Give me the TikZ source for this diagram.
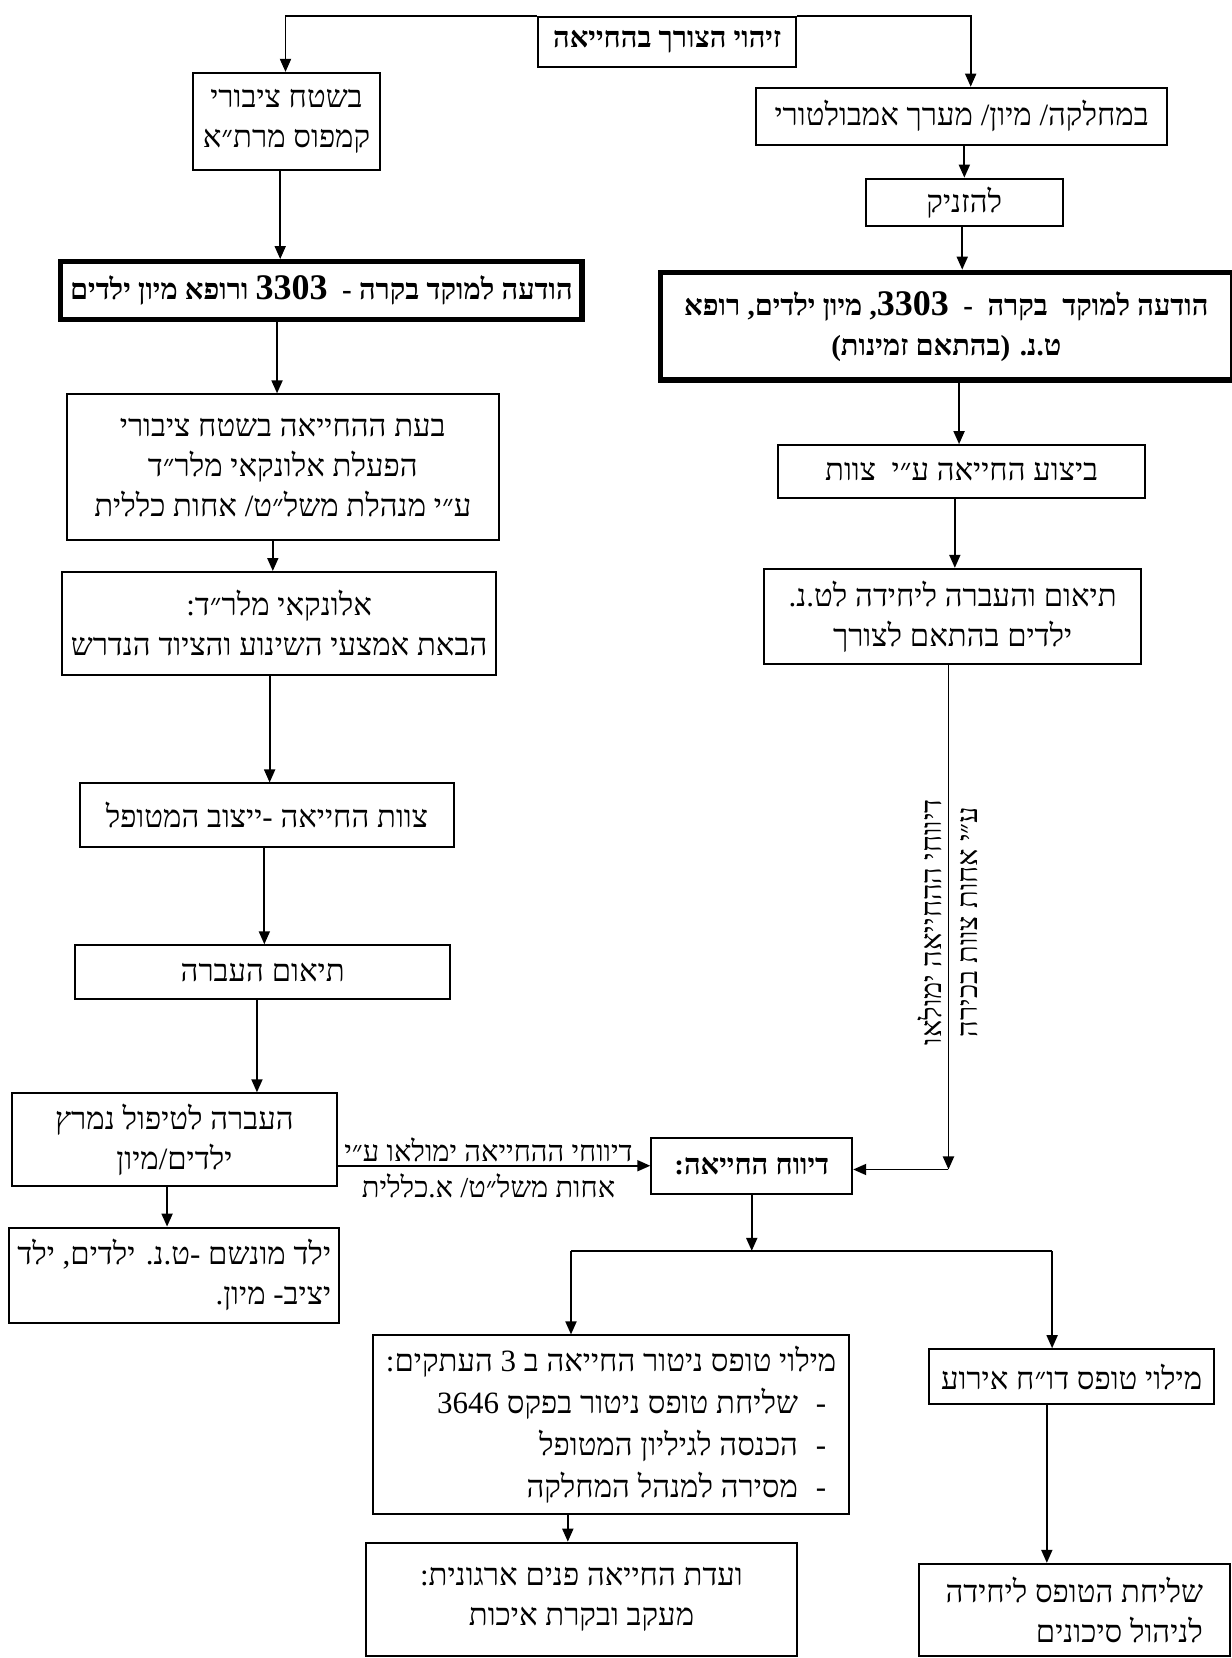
\documentclass[tikz,border=0pt]{standalone}
\usepackage{fontspec}
\setmainfont{Liberation Serif}[Script=Hebrew]
\TeXXeTstate=1
\usetikzlibrary{arrows.meta,positioning}
\newcommand{\heb}[1]{\beginR#1\endR}
\newcommand{\bignum}[1]{{\fontsize{18}{20}\selectfont #1}}
\tikzset{
  box/.style     ={draw=black,line width=1pt,fill=white,align=center,
                   inner sep=4pt,font=\fontsize{15.5}{20}\selectfont},
  strong/.style  ={box,font=\fontsize{14.5}{20}\selectfont\bfseries},
  heavy/.style   ={strong,line width=2.6pt},
  wh/.style 2 args={minimum width=#1*0.5288pt,minimum height=#2*0.5288pt,
                   anchor=north west},
  arr/.style     ={-{Triangle[length=6.5pt,width=5.5pt]},line width=0.9pt},
  link/.style    ={line width=0.9pt},
  lbl/.style     ={align=center,inner sep=1pt,font=\fontsize{14.5}{18}\selectfont},
}

\begin{document}
\begin{tikzpicture}[x=0.5288pt,y=-0.5288pt]
\useasboundingbox (0,0) rectangle (1165,1568);

% ---- start and the two branches ----------------------------------------
\node[strong,wh={244}{47}] (need) at (508,15) {\heb{זיהוי הצורך בהחייאה}};
\node[box,wh={176}{92}] (pub) at (182,68) {\heb{בשטח ציבורי}\\\heb{קמפוס מרת״א}};
\node[box,wh={389}{54}] (ward) at (714,82) {\heb{במחלקה/ מיון/ מערך אמבולטורי}};
\node[box,wh={186}{45}] (alarm) at (818,168) {\heb{להזניק}};
\node[heavy,wh={493}{55}] (callL) at (55,245)
  {\heb{הודעה למוקד בקרה -\ \ \bignum{3303} ורופא מיון ילדים}};
\node[heavy,wh={541}{102}] (callR) at (622,255)
  {\heb{הודעה למוקד\ \ בקרה\ \ -\ \ \bignum{3303}, מיון ילדים, רופא}\\\heb{ט.נ. (בהתאם זמינות)}};

% ---- left column (public area) -----------------------------------------
\node[box,wh={409}{138}] (field) at (62,372)
  {\heb{בעת ההחייאה בשטח ציבורי}\\\heb{הפעלת אלונקאי מלר״ד}\\\heb{ע״י מנהלת משל״ט/ אחות כללית}};
\node[box,wh={410}{97}] (porter) at (58,540)
  {\heb{אלונקאי מלר״ד:}\\\heb{הבאת אמצעי השינוע והציוד הנדרש}};
\node[box,wh={353}{60}] (stab) at (75,740) {\heb{צוות החייאה -ייצוב המטופל}};
\node[box,wh={355}{51}] (coordL) at (70,893) {\heb{תיאום העברה}};
\node[box,wh={308}{88}] (move) at (10,1033) {\heb{העברה לטיפול נמרץ}\\\heb{ילדים/מיון}};
\node[box,wh={310}{90},align=right] (dest) at (8,1160)
  {\heb{ילד מונשם -ט.נ. ילדים, ילד}\\\heb{יציב- מיון.}};

% ---- right column (ward) -----------------------------------------------
\node[box,wh={347}{50}] (cpr) at (735,420) {\heb{ביצוע החייאה ע״י\ \ צוות}};
\node[box,wh={356}{90}] (coordR) at (722,537)
  {\heb{תיאום והעברה ליחידה לט.נ.}\\\heb{ילדים בהתאם לצורך}};

% ---- reporting ----------------------------------------------------------
\node[strong,wh={190}{53}] (rep) at (615,1075) {\heb{דיווח החייאה:}};
\node[box,wh={450}{169},align=right,font=\fontsize{15.5}{21}\selectfont] (mon) at (352,1262)
  {\heb{מילוי טופס ניטור החייאה ב 3 העתקים:}\\
   \heb{\hspace*{5pt}-\hspace*{9pt}שליחת טופס ניטור בפקס 3646}\\
   \heb{\hspace*{5pt}-\hspace*{9pt}הכנסה לגיליון המטופל}\\
   \heb{\hspace*{5pt}-\hspace*{9pt}מסירה למנהל המחלקה}};
\node[box,wh={269}{52}] (evt) at (878,1275) {\heb{מילוי טופס דו״ח אירוע}};
\node[box,wh={408}{107}] (cmte) at (345,1458)
  {\heb{ועדת החייאה פנים ארגונית:}\\\heb{מעקב ובקרת איכות}};
\node[box,wh={294}{87},align=right] (risk) at (868,1478)
  {\heb{שליחת הטופס ליחידה}\\\heb{לניהול סיכונים}};

% ---- connectors ---------------------------------------------------------
\draw[arr] (need.north west) -| (270,0 |- pub.north);
\draw[arr] (need.north east) -| (918,0 |- ward.north);
\foreach \a/\b/\x in {pub/callL/265,callL/field/262,field/porter/258,porter/stab/255,
                      stab/coordL/250,coordL/move/243,move/dest/158,
                      ward/alarm/912,alarm/callR/910,callR/cpr/907,cpr/coordR/903,
                      mon/cmte/537,evt/risk/990}
  {\draw[arr] (\x,0 |- \a.south) -- (\x,0 |- \b.north);}

\coordinate (vEnd) at (897,1106);
\draw[arr] (897,0 |- coordR.south) -- (vEnd);
\draw[arr] (vEnd) -- (vEnd -| rep.east);
\node[lbl,rotate=90] (vlab) at (896,872)
  {\heb{דיווחי ההחייאה ימולאו}\\\heb{ע״י אחות צוות בכירה}};

\draw[arr] (move.east |- rep.west) -- (rep.west);
\node[lbl] (hlab) at (462,1104)
  {\heb{דיווחי ההחייאה ימולאו ע״י}\\\heb{אחות משל״ט/ א.כללית}};

\coordinate (jL) at (540,1183);
\coordinate (jR) at (995,1183);
\draw[arr] (rep.south) -- (rep.south |- jL);
\draw[link] (jL) -- (jR);
\draw[arr] (jL) -- (jL |- mon.north);
\draw[arr] (jR) -- (jR |- evt.north);
\end{tikzpicture}
\end{document}
